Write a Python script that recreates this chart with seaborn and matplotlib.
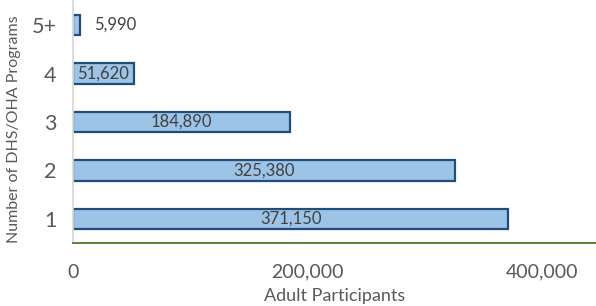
import matplotlib
matplotlib.use("Agg")
import matplotlib.pyplot as plt
import seaborn as sns
import pandas as pd
from matplotlib.ticker import FuncFormatter

sns.set_theme(style="white")
plt.rcParams['font.family'] = ['Lato', 'DejaVu Sans']

programs = ["5+", "4", "3", "2", "1"]
participants = [5990, 51620, 184890, 325380, 371150]

df = pd.DataFrame({"programs": programs, "participants": participants})

fig = plt.figure(figsize=(5.96, 3.06), dpi=100)
ax = fig.add_axes([0.1225, 0.206, 0.8775, 0.791])

sns.barplot(data=df, x="participants", y="programs", orient="h",
            color="#9dc3e6", edgecolor="#1f4e79", linewidth=1.6,
            width=0.42, saturation=1, ax=ax)

ax.set_xlim(0, 446000)
ax.set_ylim(4.5, -0.5)
ax.set_xticks([0, 200000, 400000])
ax.xaxis.set_major_formatter(FuncFormatter(lambda v, p: f"{int(v):,}"))
ax.tick_params(axis="x", direction="in", length=5, color="#4f7a28", width=1,
               labelsize=14, labelcolor="#595959", pad=15)
ax.tick_params(axis="y", length=0, labelsize=15.5, labelcolor="#595959", pad=12)

for s in ["top", "right"]:
    ax.spines[s].set_visible(False)
ax.spines["bottom"].set_color("#4f7a28")
ax.spines["bottom"].set_linewidth(1.3)
ax.spines["left"].set_color("#d9d9d9")
ax.spines["left"].set_linewidth(1.3)

ax.set_xlabel("Adult Participants", fontsize=13, color="#595959", labelpad=5)
ax.set_ylabel("Number of DHS/OHA Programs", fontsize=11.5, color="#595959", labelpad=6)
ax.yaxis.set_label_coords(-0.1, 0.47)

for i, v in enumerate(participants):
    if v < 30000:
        ax.text(v + 12000, i, f"{v:,}", va="center", ha="left",
                fontsize=12, color="#404040")
    else:
        ax.text(v / 2, i, f"{v:,}", va="center", ha="center",
                fontsize=12, color="#404040")

fig.savefig("out.png", dpi=100)
